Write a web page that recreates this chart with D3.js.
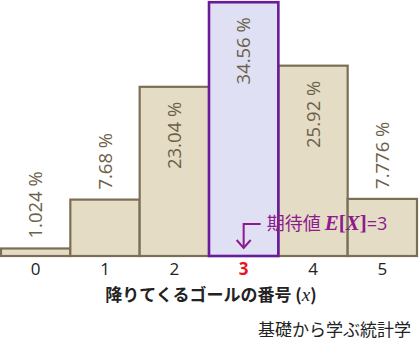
<!DOCTYPE html>
<html><head><meta charset="utf-8">
<script src="https://cdn.jsdelivr.net/npm/d3@7"></script>
<style>body{margin:0;background:#fff}svg{display:block}</style>
</head><body>
<script>
const categories = ["0","1","2","3","4","5"];
const values = [1.024, 7.68, 23.04, 34.56, 25.92, 7.776];
const valueLabels = ["1.024 %","7.68 %","23.04 %","34.56 %","25.92 %","7.776 %"];
const highlight = "3";
const xTitle = "降りてくるゴールの番号";
const annotation = "期待値";
const credit = "基礎から学ぶ統計学";

const W = 419, H = 354;
const svg = d3.select("body").append("svg").attr("width", W).attr("height", H);
const x = d3.scaleBand().domain(categories).range([1, 417]).padding(0);
const y = d3.scaleLinear().domain([0, 35]).range([256, -1]);

const beigeFill = "#e4dcc5", beigeStroke = "#7a6f55";
const hiFill = "#dfe0f3", hiStroke = "#6a1b9a";
const labelColor = "#6b6048";
const purple = "#8e1a8e";

const data = categories.map((c, i) => ({c, v: values[i], label: valueLabels[i]}));
const sorted = data.filter(d => d.c !== highlight).concat(data.filter(d => d.c === highlight));

svg.append("g").selectAll("rect").data(sorted).join("rect")
  .attr("x", d => x(d.c))
  .attr("y", d => y(d.v))
  .attr("width", x.bandwidth())
  .attr("height", d => y(0) - y(d.v))
  .attr("fill", d => d.c === highlight ? hiFill : beigeFill)
  .attr("stroke", d => d.c === highlight ? hiStroke : beigeStroke)
  .attr("stroke-width", d => d.c === highlight ? 2.6 : 2.2);

// value labels
svg.append("g").selectAll("text").data(data).join("text")
  .attr("transform", d => {
    const cx = x(d.c) + x.bandwidth() / 2;
    const inside = d.v > 15;
    const py = inside ? y(d.v) + 15 : y(d.v) - 10;
    return `translate(${cx},${py}) rotate(-90)`;
  })
  .attr("text-anchor", d => d.v > 15 ? "end" : "start")
  .attr("dy", "0.36em")
  .attr("font-family", "'Open Sans', 'Noto Sans', sans-serif")
  .attr("font-size", 18.5)
  .attr("fill", labelColor)
  .text(d => d.label);

// x axis tick labels
const axis = d3.axisBottom(x).tickSize(0).tickPadding(0);
const gx = svg.append("g").attr("transform", `translate(0,${y(0) + 13})`).call(axis);
gx.select(".domain").remove();
gx.selectAll("text")
  .attr("font-family", "'Open Sans', 'Noto Sans', sans-serif")
  .attr("font-size", 17)
  .attr("dy", "0.36em")
  .attr("y", 0)
  .attr("fill", d => d === highlight ? "#e8141e" : "#222")
  .attr("font-weight", d => d === highlight ? "bold" : "normal");

// x title
const t = svg.append("text").attr("x", 211).attr("y", 301)
  .attr("text-anchor", "middle")
  .attr("font-family", "'Noto Sans CJK JP', sans-serif")
  .attr("font-weight", "bold").attr("font-size", 17).attr("fill", "#222");
t.append("tspan").text(xTitle + " (");
t.append("tspan").attr("font-family", "'Liberation Serif', 'DejaVu Serif', serif").attr("font-style", "italic").attr("font-weight", "normal").attr("font-size", 19).text("x");
t.append("tspan").text(")");

// credit
svg.append("text").attr("x", 411).attr("y", 336).attr("text-anchor", "end")
  .attr("font-family", "'Noto Sans CJK JP', sans-serif")
  .attr("font-size", 17).attr("fill", "#222").text(credit);

// annotation
const ax = x(highlight) + x.bandwidth() / 2;
const ay = 224;
svg.append("path")
  .attr("d", `M${ax + 17},${ay} H${ax} V${ay + 24}`)
  .attr("fill", "none").attr("stroke", purple).attr("stroke-width", 2);
svg.append("path")
  .attr("d", `M${ax - 7},${ay + 16} L${ax},${ay + 24} L${ax + 7},${ay + 16}`)
  .attr("fill", "none").attr("stroke", purple).attr("stroke-width", 2);
const at = svg.append("text").attr("x", ax + 23).attr("y", ay).attr("dy", "0.36em")
  .attr("fill", purple).attr("font-size", 18)
  .attr("font-family", "'Noto Sans CJK JP', sans-serif");
at.append("tspan").text(annotation + " ");
const serif = "'Liberation Serif', 'DejaVu Serif', serif";
at.append("tspan").attr("font-family", serif)
  .attr("font-style", "italic").attr("font-weight", "bold").attr("font-size", 21).text("E");
at.append("tspan").attr("font-family", serif)
  .attr("font-weight", "bold").attr("font-size", 21).text("[");
at.append("tspan").attr("font-family", serif)
  .attr("font-style", "italic").attr("font-weight", "bold").attr("font-size", 21).text("X");
at.append("tspan").attr("font-family", serif)
  .attr("font-weight", "bold").attr("font-size", 21).text("]");
at.append("tspan").attr("font-family", "'Open Sans', sans-serif").text("=3");
</script>
</body></html>
